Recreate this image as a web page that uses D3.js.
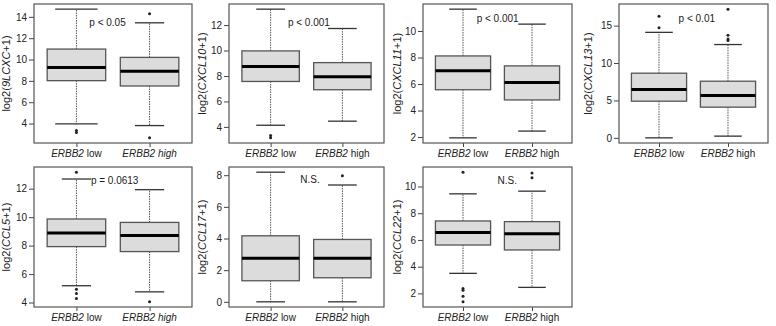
<!DOCTYPE html>
<html>
<head>
<meta charset="utf-8">
<script src="https://cdn.jsdelivr.net/npm/d3@7"></script>
<style>
  body { margin: 0; background: #fff; }
  svg text { font-family: Arial, "Liberation Sans", sans-serif; fill: #222; }
</style>
</head>
<body>
<div id="chart"></div>
<script>
// ---- data ----
const groups = ["low", "high"];
const genes = ["9LCXC", "CXCL10", "CXCL11", "CXCL13", "CCL5", "CCL17", "CCL22"];
const pLabels = ["p < 0.05", "p < 0.001", "p < 0.001", "p < 0.01", "p = 0.0613", "N.S.", "N.S."];
const yTicks = [
    [4, 6, 8, 10, 12, 14],
    [4, 6, 8, 10, 12],
    [2, 4, 6, 8, 10],
    [0, 5, 10, 15],
    [4, 6, 8, 10, 12],
    [0, 2, 4, 6, 8],
    [2, 4, 6, 8, 10]
];
// [lower whisker, Q1, median, Q3, upper whisker]
const lowStats = [
    [3.97, 8.02, 9.26, 10.98, 14.72],
    [4.13, 7.57, 8.74, 9.97, 13.25],
    [1.94, 5.57, 7.0, 8.12, 11.65],
    [0.0, 4.9, 6.46, 8.64, 14.1],
    [5.18, 7.93, 8.88, 9.87, 12.68],
    [0.0, 1.33, 2.75, 4.17, 8.19],
    [3.5, 5.62, 6.55, 7.42, 9.45]
];
const highStats = [
    [3.81, 7.52, 8.89, 10.2, 13.44],
    [4.45, 6.92, 7.94, 9.05, 11.73],
    [2.45, 4.8, 6.12, 7.37, 10.52],
    [0.23, 4.1, 5.66, 7.57, 12.47],
    [4.75, 7.58, 8.71, 9.63, 11.93],
    [0.0, 1.52, 2.75, 3.94, 7.38],
    [2.45, 5.25, 6.47, 7.37, 9.65]
];
const lowOutliers = [
    [3.35, 3.15],
    [3.33, 3.14],
    [],
    [16.25, 14.7],
    [13.16, 4.94, 4.64, 4.28],
    [],
    [11.07, 2.37, 2.24, 1.79, 1.37]
];
const highOutliers = [
    [14.3, 2.66],
    [],
    [],
    [17.2, 13.7, 13.2, 13.0],
    [4.05],
    [7.97],
    [11.0, 10.65]
];

// ---- layout ----
let panels = [
    { x: 34, y: 4, w: 158, h: 139, px: 0.35, py: 18, lab: -24.5, highIt: true, cap: [0.58, 0.4] },
    { x: 229, y: 4, w: 155, h: 139, px: 0.38, py: 18, lab: -23.5, highIt: false, cap: [0.4, 0.4] },
    { x: 423, y: 4, w: 149, h: 139, px: 0.36, py: 14, lab: -22, highIt: false, cap: [0.4, 0.4] },
    { x: 619, y: 4, w: 149, h: 139, px: 0.40, py: 14, lab: -27, highIt: false, cap: [0.4, 0.4] },
    { x: 34, y: 167, w: 158, h: 140, px: 0.36, py: 13, lab: -24.5, highIt: true, cap: [0.4, 0.4] },
    { x: 229, y: 167, w: 155, h: 140, px: 0.46, py: 12, lab: -23.5, highIt: false, cap: [0.4, 0.4] },
    { x: 423, y: 167, w: 149, h: 140, px: 0.50, py: 13, lab: -22.5, highIt: false, cap: [0.4, 0.4] }
];

let svg = d3.select("#chart").append("svg")
    .attr("width", 776)
    .attr("height", 326);

genes.forEach(function (gene, i) {
    let p = panels[i];
    let stats = [lowStats[i], highStats[i]];
    let outs = [lowOutliers[i], highOutliers[i]];

    // R style: 4% padding on the data range
    let all = d3.merge([stats[0], stats[1], outs[0], outs[1]]);
    let lo = d3.min(all), hi = d3.max(all), r = hi - lo;

    let x = d3.scaleLinear().domain([0.42, 2.58]).range([0, p.w]);
    let y = d3.scaleLinear().domain([lo - 0.04 * r, hi + 0.04 * r]).range([p.h, 0]);

    let g = svg.append("g")
        .attr("transform", "translate(" + p.x + "," + p.y + ")");

    // y axis
    let yAxis = g.append("g")
        .call(d3.axisLeft(y).tickValues(yTicks[i]).tickSize(5).tickPadding(2).tickFormat(d3.format("d")));
    yAxis.select(".domain").remove();
    yAxis.selectAll("line").attr("stroke", "#444");
    yAxis.selectAll("text").style("font-size", "10px").style("font-family", "Arial, 'Liberation Sans', sans-serif").attr("fill", "#222");

    // x axis ticks
    let xAxis = g.append("g")
        .attr("transform", "translate(0," + p.h + ")")
        .call(d3.axisBottom(x).tickValues([1, 2]).tickSize(4).tickFormat(""));
    xAxis.select(".domain").remove();
    xAxis.selectAll("line").attr("stroke", "#444");

    // x labels
    groups.forEach(function (grp, k) {
        let t = g.append("text")
            .attr("x", x(k + 1))
            .attr("y", p.h + 14)
            .attr("text-anchor", "middle")
            .style("font-size", "10px");
        t.append("tspan").style("font-style", "italic").text("ERBB2");
        t.append("tspan")
            .style("font-style", (k === 1 && p.highIt) ? "italic" : "normal")
            .text(" " + grp);
    });

    // y label
    let lab = g.append("text")
        .attr("transform", "translate(" + p.lab + "," + (p.h / 2) + ") rotate(-90)")
        .attr("text-anchor", "middle")
        .style("font-size", "11px");
    lab.append("tspan").text("log2(");
    lab.append("tspan").style("font-style", "italic").text(gene);
    lab.append("tspan").text("+1)");

    // boxes
    stats.forEach(function (s, k) {
        let cx = x(k + 1);
        let bw = x(1.4) - x(1);
        let cw = x(1 + p.cap[k] / 2) - x(1);

        // whiskers
        g.append("line")
            .attr("x1", cx).attr("x2", cx)
            .attr("y1", y(s[3])).attr("y2", y(s[4]))
            .attr("stroke", "#555").attr("stroke-width", 1)
            .attr("stroke-dasharray", "1.5,1");
        g.append("line")
            .attr("x1", cx).attr("x2", cx)
            .attr("y1", y(s[1])).attr("y2", y(s[0]))
            .attr("stroke", "#555").attr("stroke-width", 1)
            .attr("stroke-dasharray", "1.5,1");

        // caps
        [s[0], s[4]].forEach(function (v) {
            g.append("line")
                .attr("x1", cx - cw).attr("x2", cx + cw)
                .attr("y1", y(v)).attr("y2", y(v))
                .attr("stroke", "#333").attr("stroke-width", 1.3);
        });

        g.append("rect")
            .attr("x", cx - bw)
            .attr("y", y(s[3]))
            .attr("width", bw * 2)
            .attr("height", y(s[1]) - y(s[3]))
            .attr("fill", "#dcdcdc")
            .attr("stroke", "#555")
            .attr("stroke-width", 1.3);

        g.append("line")
            .attr("x1", cx - bw).attr("x2", cx + bw)
            .attr("y1", y(s[2])).attr("y2", y(s[2]))
            .attr("stroke", "#000").attr("stroke-width", 3);

        g.selectAll(".out" + k)
            .data(outs[k])
            .enter()
            .append("circle")
            .attr("cx", cx)
            .attr("cy", function (d) { return y(d); })
            .attr("r", 1.5)
            .attr("fill", "#222");
    });

    // frame
    g.append("rect")
        .attr("width", p.w)
        .attr("height", p.h)
        .attr("fill", "none")
        .attr("stroke", "#555")
        .attr("stroke-width", 1.2);

    // p value
    g.append("text")
        .attr("x", p.w * p.px)
        .attr("y", p.py)
        .attr("dy", "0.35em")
        .style("font-size", "10px")
        .text(pLabels[i]);
});
</script>
</body>
</html>
